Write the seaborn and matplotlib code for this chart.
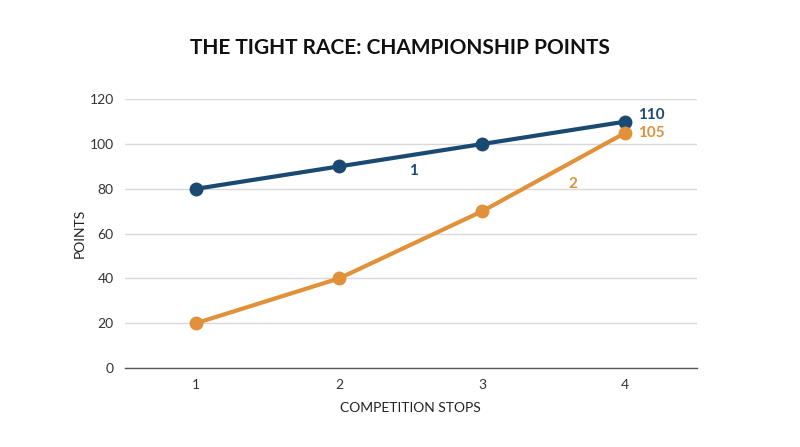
import matplotlib
matplotlib.use("Agg")
import matplotlib.pyplot as plt
import pandas as pd
import seaborn as sns

# chart data
stops = [1, 2, 3, 4]
team1_points = [80, 90, 100, 110]
team2_points = [20, 40, 70, 105]
series_names = ["1", "2"]

BLUE = "#1a4a72"
ORANGE = "#e0913a"

df = pd.DataFrame({
    "stop": stops * 2,
    "points": team1_points + team2_points,
    "team": [series_names[0]] * 4 + [series_names[1]] * 4,
})

sns.set_theme(style="white")
plt.rcParams["font.family"] = ["Lato", "DejaVu Sans"]

fig = plt.figure(figsize=(8, 4.47), dpi=100)
ax = fig.add_axes([0.156, 0.177, 0.715, 0.601])

sns.lineplot(data=df, x="stop", y="points", hue="team",
             palette=[BLUE, ORANGE], marker="o", markersize=10,
             markeredgewidth=0, linewidth=3, legend=False, ax=ax)

ax.set_xlim(0.5, 4.5)
ax.set_ylim(0, 120)
ax.set_xticks(stops)
ax.set_yticks(range(0, 121, 20))
ax.tick_params(axis="both", labelsize=10, colors="#333333", length=0, pad=8)
ax.grid(axis="y", color="#d9d9d9", linewidth=1)
ax.set_axisbelow(True)
for side in ["left", "right", "top"]:
    ax.spines[side].set_visible(False)
ax.spines["bottom"].set_color("#555555")
ax.spines["bottom"].set_linewidth(1)

ax.set_xlabel("COMPETITION STOPS", fontsize=10, color="#222222", labelpad=8)
ax.set_ylabel("POINTS", fontsize=10, color="#222222", labelpad=3)

# end value labels
ax.text(stops[-1] + 0.09, team1_points[-1] + 3, str(team1_points[-1]),
        color=BLUE, fontsize=11, fontweight="bold", va="center", ha="left")
ax.text(stops[-1] + 0.09, team2_points[-1], str(team2_points[-1]),
        color=ORANGE, fontsize=11, fontweight="bold", va="center", ha="left")

# series labels along the lines
ax.text(2.52, 88, series_names[0], color=BLUE, fontsize=11,
        fontweight="bold", ha="center", va="center")
ax.text(3.63, 82, series_names[1], color=ORANGE, fontsize=11,
        fontweight="bold", ha="center", va="center")

fig.text(0.5, 0.893, "THE TIGHT RACE: CHAMPIONSHIP POINTS", ha="center",
         va="center", fontsize=15, fontweight="bold", color="#111111")

fig.savefig("out.png", dpi=100)
